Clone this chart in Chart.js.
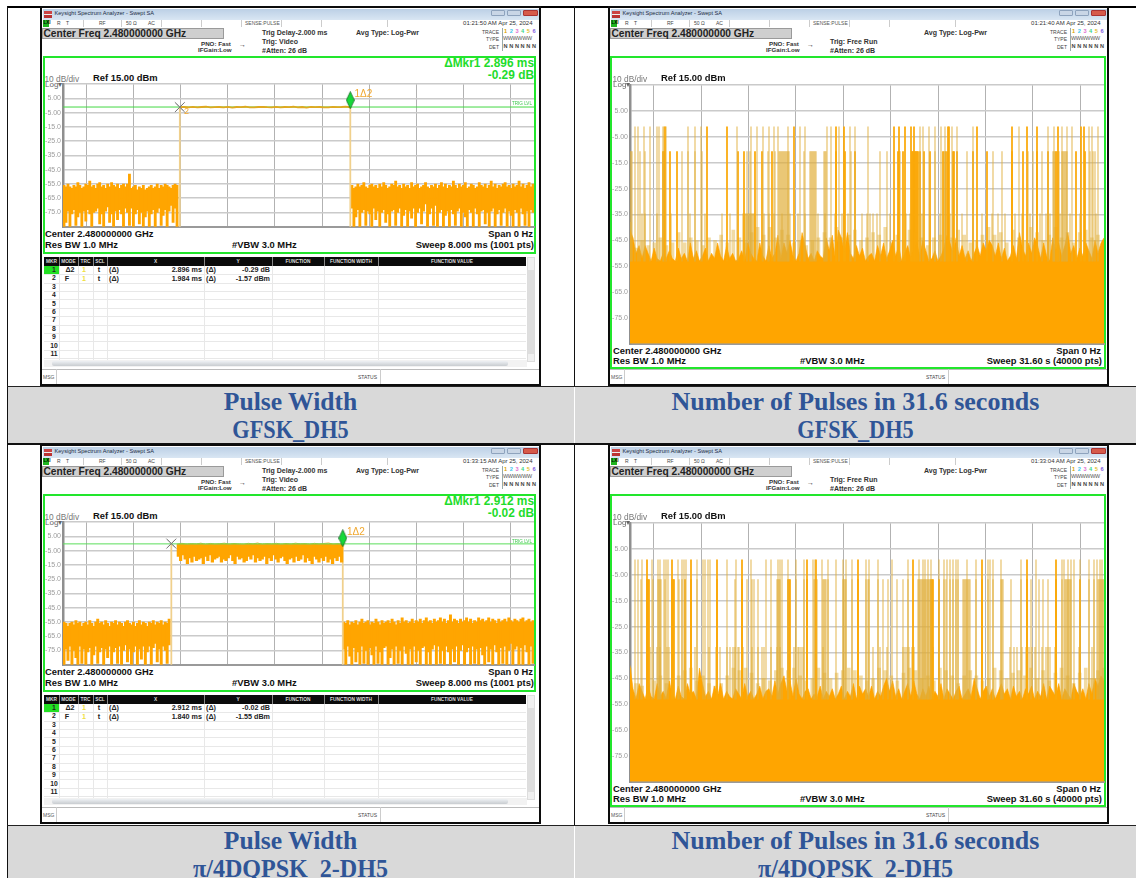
<!DOCTYPE html>
<html><head><meta charset="utf-8">
<script src="https://cdn.jsdelivr.net/npm/chart.js@4/dist/chart.umd.js"></script>
<style>
html,body{margin:0;padding:0;background:#fff;width:1136px;height:878px;overflow:hidden;font-family:"Liberation Sans",Arial,sans-serif}
#page{position:relative;width:1136px;height:878px;overflow:hidden}
.t{position:absolute;white-space:nowrap;line-height:1;color:#111}
.b{position:absolute;box-sizing:border-box}
canvas{position:absolute}
.cap{position:absolute;text-align:center;font-family:"Liberation Serif",serif;font-weight:bold;color:#2F5597;line-height:28px}
</style></head><body><div id="page"></div>
<script>
const dbTickLabels={"5":"5.00","-5":"-5.00","-15":"-15.0","-25":"-25.0","-35":"-35.0","-45":"-45.0","-55":"-55.0","-65":"-65.0","-75":"-75.0"};
const captions=[["Pulse Width","GFSK_DH5"],["Number of Pulses in 31.6 seconds","GFSK_DH5"],["Pulse Width","π/4DQPSK_2-DH5"],["Number of Pulses in 31.6 seconds","π/4DQPSK_2-DH5"]];
const timestamps=["01:21:50 AM Apr 25, 2024","01:21:40 AM Apr 25, 2024","01:33:15 AM Apr 25, 2024","01:33:04 AM Apr 25, 2024"];
const tableHeads=["MKR","MODE","TRC","SCL","X","Y","FUNCTION","FUNCTION WIDTH","FUNCTION VALUE"];
const rowNumbers=["1","2","3","4","5","6","7","8","9","10","11"];

/* Pulse-width sweeps: markers in ms, levels in dBm */
const pw1Start=1.984, pw1Stop=4.88, pw1Mkr="2.896 ms", pw1Db="-0.29 dB", pw1Row2=["1.984 ms","-1.57 dBm"];
const pw3Start=1.84, pw3Stop=4.752, pw3Mkr="2.912 ms", pw3Db="-0.02 dB", pw3Row2=["1.840 ms","-1.55 dBm"];

const pw1TopTrace=[-1.1,-1.0,-1.3,-0.9,-1.2,-1.0,-0.8,-1.3,-1.1,-1.0,-1.2,-0.9,-1.4,-1.0,-1.1,-0.8,-1.2,-1.3,-1.0,-0.9,-1.1,-1.2,-0.9,-1.3,-1.0,-1.1,-0.8,-1.2,-1.0,-1.4,-0.9,-1.1,-1.0,-1.2,-1.3,-0.9,-1.1,-1.0,-0.7,-1.2];
const pw1LeftHi=[-56,-57,-55,-57,-58,-56,-57,-54,-56,-58,-57,-55,-56,-53,-57,-56,-58,-55,-54,-57,-56,-58,-55,-57,-54,-56,-57,-55,-58,-56,-55,-57,-55,-48,-58,-57,-56,-59,-57,-58,-56,-59,-58,-57,-56,-58,-57,-55,-58,-56,-57,-55,-56,-57,-58,-56,-55,-56];
const pw1LeftLo=[-85,-82,-74,-85,-76,-73,-84,-78,-75,-85,-74,-81,-73,-76,-85,-75,-74,-72,-83,-76,-85,-74,-71,-82,-76,-85,-74,-80,-73,-76,-85,-72,-75,-84,-72,-85,-76,-73,-83,-75,-85,-78,-74,-85,-76,-73,-85,-75,-72,-84,-77,-73,-85,-74,-70,-82,-72,-85];
const pw1RightHi=[-56,-58,-57,-55,-57,-56,-54,-57,-58,-56,-55,-57,-56,-58,-55,-57,-54,-56,-58,-57,-55,-56,-53,-57,-56,-58,-55,-57,-56,-58,-54,-57,-56,-55,-58,-57,-56,-54,-57,-58,-56,-57,-55,-58,-56,-54,-57,-55,-58,-56,-57,-53,-56,-58,-55,-57,-56,-54,-58,-57,-55,-56,-58,-57,-54,-56,-57,-55,-58,-56,-53,-57,-55,-58,-56,-57,-55,-54,-57,-56,-58,-55,-57,-56,-53,-57,-55,-58,-56,-54,-57,-55];
const pw1RightLo=[-72,-85,-78,-73,-85,-75,-73,-84,-74,-76,-85,-72,-80,-74,-85,-75,-73,-82,-76,-85,-74,-73,-84,-75,-72,-85,-77,-73,-85,-74,-79,-72,-85,-75,-72,-83,-74,-69,-85,-76,-72,-84,-70,-85,-75,-73,-85,-77,-74,-85,-73,-76,-84,-74,-72,-85,-75,-78,-85,-73,-75,-85,-72,-76,-85,-74,-73,-83,-75,-85,-74,-72,-85,-76,-73,-84,-75,-72,-85,-74,-77,-85,-73,-75,-85,-72,-76,-84,-74,-85,-73,-75];

const pw3TopTrace=[-0.4,0.2,-0.5,0.0,-0.3,0.3,-0.6,0.1,-0.4,-0.1,0.3,-0.5,0.1,-0.3,-0.6,0.2,-0.2,0.4,-0.5,0.0,-0.3,0.2,-0.6,0.1,-0.4,0.3,-0.2,0.0,-0.5,0.2,-0.3,0.1,0.4,-0.4,0.0,-0.6];
const pw3TopLo=[-9,-12,-8,-11,-14,-10,-13,-9,-12,-11,-10,-14,-9,-12,-8,-13,-11,-10,-9,-13,-11,-12,-10,-8,-12,-14,-9,-11,-10,-13,-12,-9,-11,-8,-13,-10,-12,-11,-9,-14,-10,-12,-8,-11,-13,-10,-9,-12,-14,-11,-10,-13,-9,-12,-11,-8,-13,-10,-12,-14,-9,-11,-13,-10,-12,-9,-13,-11,-14,-10,-12,-9,-13];
const pw3LeftHi=[-55,-56,-58,-56,-55,-57,-54,-56,-55,-58,-56,-55,-57,-54,-56,-58,-55,-53,-56,-55,-57,-54,-56,-58,-55,-56,-54,-57,-55,-56,-58,-55,-54,-56,-57,-55,-58,-56,-54,-57,-55,-56,-58,-55,-56,-54,-57,-55,-56,-54,-57,-55,-56,-53];
const pw3LeftLo=[-85,-74,-82,-72,-85,-75,-80,-85,-72,-84,-74,-85,-76,-73,-85,-78,-72,-84,-76,-73,-85,-74,-80,-72,-85,-76,-73,-84,-72,-85,-75,-71,-83,-74,-85,-76,-72,-85,-74,-81,-72,-85,-76,-72,-85,-73,-70,-83,-74,-85,-72,-75,-84,-71];
const pw3RightHi=[-55,-56,-54,-57,-55,-56,-54,-57,-55,-53,-56,-55,-54,-57,-55,-56,-53,-55,-57,-54,-56,-55,-54,-56,-53,-55,-57,-54,-56,-52,-55,-54,-56,-55,-53,-56,-54,-55,-53,-56,-54,-52,-55,-54,-56,-53,-55,-54,-52,-55,-53,-56,-54,-50,-55,-53,-54,-56,-53,-55,-54,-52,-55,-53,-56,-54,-55,-52,-54,-53,-55,-54,-52,-55,-53,-54,-56,-53,-55,-54,-53,-55,-52,-54,-55,-53,-54,-55,-53,-52,-55,-54,-53,-55,-54];
const pw3RightLo=[-74,-85,-72,-79,-85,-73,-83,-76,-85,-72,-84,-75,-85,-73,-78,-85,-72,-84,-76,-85,-73,-72,-85,-80,-74,-85,-72,-84,-75,-85,-72,-77,-85,-74,-85,-72,-83,-75,-85,-73,-72,-85,-76,-85,-74,-71,-85,-72,-84,-75,-85,-72,-76,-85,-74,-83,-72,-85,-75,-71,-85,-76,-73,-85,-72,-84,-74,-85,-73,-78,-85,-72,-83,-74,-85,-71,-76,-85,-73,-84,-72,-85,-75,-70,-85,-74,-72,-85,-73,-85,-71,-76,-85,-72,-84];

/* Pulse-count sweeps: trace columns across the 10 divisions (0..474) */
const p2TopStrong=[35,77,97,164,206,214,264,269,275,281,284,318,319,347,382,397,407,428,451,454];
const p2TopPale=[5,8,14,20,27,29,33,34,36,58,65,71,107,121,127,133,139,144,148,158,170,175,197,201,209,220,225,238,290,293,299,305,311,315,322,327,343,389,418,424,432,437,442,459,462,468];
const p2MidStrong=[33,34,40,47,108,114,125,132,142,206,215,225,268,273,282,283,284,285,286,287,288,290,294,300,313,316,318,323,324,327,343,357,382,393,407,418,426,446,455];
const p2MidPale=[0,1,2,10,15,52,58,65,72,117,120,138,145,149,150,151,152,153,154,155,156,157,158,159,174,180,181,182,183,184,185,186,194,195,196,221,250,257,269,270,305,314,315,337,363,372,398,403,412,423,424,425,427,428,429,432,433,434,435,436,437,460,463,465];
const p2LowPale=[12,15,27,41,60,75,92,100,113,114,115,116,117,118,119,120,121,122,123,124,125,134,139,144,152,160,168,175,188,195,205,212,218,232,237,240,243,247,260,268,276,280,292,300,310,320,332,352,362,368,375,385,392,400,410,416,420,430,440,450,466];
const p2Floor=[-41,-44,-50,-47,-52,-47,-50,-53,-48,-52,-53,-50,-52,-49,-52,-53,-48,-52,-50,-53,-46,-52,-49,-53,-51,-48,-53,-50,-52,-46,-51,-53,-47,-52,-50,-53,-52,-49,-53,-46,-50,-52,-53,-46,-51,-53,-47,-52,-50,-43,-52,-46,-50,-45,-51,-53,-50,-42,-47,-52,-50,-53,-49,-51,-52,-44,-49,-43,-52,-41,-44,-50,-42,-50,-52,-47,-51,-48,-53,-51,-50,-53,-47,-51,-46,-52,-49,-45,-51,-47,-53,-50,-47,-52,-48,-46,-51,-45,-49,-53,-52,-49,-53,-51,-48,-43,-46,-50,-44,-51,-47,-52,-49,-53,-50,-47,-51,-46,-49,-45,-47,-51,-46,-52,-48,-53,-51,-47,-52,-42,-48,-51,-46,-50,-44,-47,-52,-46,-51,-53,-44,-49,-46,-51,-47,-42,-50,-47,-52,-48,-51,-46,-49,-52,-45,-50,-46,-44];
const p2Haze=[-38,-48,-45,-47,-46,-44,-47,-46,-42,-46,-44,-45,-47,-44,-45,-43,-46,-41,-44,-46,-42,-40,-43,-40,-44,-41,-43,-46,-45,-47,-45,-44,-42,-44,-40,-44,-43,-41,-45,-44,-42,-43,-40,-46,-43,-45,-41,-42,-44,-47,-44,-43,-46,-44,-41,-43,-46,-45,-43,-40,-43,-42,-46,-41,-44,-45,-40,-42,-45,-43,-40,-44,-42,-46,-42,-41,-44,-43,-45];

const p4TopStrong=[17,42,61,87,112,177,186,228,283,352,397,426];
const p4TopPale=[5,8,12,22,28,30,34,36,38,48,52,54,56,67,73,75,78,80,97,106,121,136,141,148,150,152,158,166,174,183,185,192,198,206,213,216,222,236,239,248,262,278,289,293,295,298,301,309,314,317,320,323,326,328,337,346,358,360,363,371,391,406,432,434,438,441,444,450,459,464,467,470,472];
const p4MidStrong=[17,18,19,42,43,44,55,61,87,112,158,159,160,177,301,302,303,228,309,352,397,426,450];
const p4MidPale=[11,23,28,29,30,31,35,49,52,67,105,117,122,124,128,147,148,149,150,166,174,184,185,186,187,193,194,195,196,198,213,214,215,216,222,236,238,239,248,253,258,267,273,278,283,288,289,290,291,292,293,294,295,296,297,298,299,300,314,316,320,323,326,328,333,334,335,336,337,338,339,340,346,358,363,371,372,373,381,391,401,409,413,418,432,435,436,437,438,439,440,441,459,464,468,469,470,471,472,473,474];
const p4LowPale=[20,27,30,37,39,65,79,86,90,97,100,103,105,108,109,113,122,128,132,134,141,147,150,164,168,169,171,173,193,243,250,257,273,275,277,279,282,284,303,380,384,387,392,396,399,402,405,412,416,418,420,425,449,462];
const p4Floor=[-40,-49,-53,-47,-50,-53,-48,-52,-53,-47,-52,-50,-53,-46,-51,-53,-48,-52,-53,-47,-51,-50,-53,-41,-47,-52,-50,-53,-48,-52,-47,-53,-50,-52,-53,-49,-51,-53,-47,-52,-50,-53,-51,-48,-53,-50,-49,-52,-46,-51,-47,-44,-50,-46,-52,-45,-51,-53,-50,-49,-53,-51,-52,-48,-53,-50,-52,-49,-53,-51,-48,-53,-50,-52,-47,-53,-48,-51,-49,-52,-48,-53,-50,-52,-48,-45,-50,-46,-52,-49,-53,-50,-47,-52,-46,-51,-53,-49,-52,-48,-53,-50,-52,-47,-53,-49,-51,-53,-50,-48,-53,-51,-49,-52,-45,-49,-53,-50,-48,-52,-49,-53,-50,-47,-51,-49,-53,-48,-52,-50,-53,-49,-51,-48,-53,-50,-52,-47,-53,-48,-50,-52,-47,-53,-49,-51,-53,-47,-50,-52,-49,-53,-47,-51,-45,-48,-44,-46];
const p4Haze=[-41,-47,-48,-47,-46,-44,-47,-46,-44,-42,-41,-46,-44,-47,-48,-47,-44,-41,-42,-41,-43,-47,-45,-46,-42,-41,-42,-41,-44,-46,-45,-41,-43,-45,-43,-42,-41,-42,-44,-46,-45,-41,-42,-44,-46,-43,-41,-42,-45,-44,-46,-41,-42,-44,-47,-44,-42,-44,-46,-45,-41,-42,-45,-43,-42,-44,-41,-45,-42,-46,-43,-41,-44,-47,-43,-41,-45,-42,-41];

const GRID_H='#cacaca', GRID_V='#b2b2b2', ORANGE='#FFA500', PALE='rgba(226,176,60,.5)', STRONG='rgba(250,168,8,.97)', GREEN='#22e62c';
const page=document.getElementById('page');
function box(x,y,w,h,css,html){const d=document.createElement('div');d.className='b';d.style.cssText=`left:${x}px;top:${y}px;width:${w}px;height:${h}px;${css||''}`;if(html)d.innerHTML=html;page.appendChild(d);return d;}
function txt(x,y,s,css,right){const d=document.createElement('div');d.className='t';d.textContent=s;d.style.cssText=`${right?'right:'+(1136-x):'left:'+x}px;top:${y}px;transform:translateY(-50%);${css||''}`;page.appendChild(d);return d;}
function centre(x,y,s,css){const d=txt(x,y,s,css);d.style.transform='translate(-50%,-50%)';return d;}

/* table skeleton */
box(7,6,1129,1.5,'background:#000');
box(7,6,1,872,'background:#111');
box(574,6,1,381,'background:#111');
box(574,444,1,381,'background:#111');
[[8,387,566,56],[575,387,561,56],[8,826,566,52],[575,826,561,52]].forEach(r=>box(r[0],r[1],r[2],r[3],'background:#D9D9D9'));
box(7,386,1129,1,'background:#222');box(7,443,1129,1.5,'background:#111');box(7,825,1129,1,'background:#222');
const capFirstSize=[25.6,26,25.6,26], capSecondScale=[.87,.87,.94,.94];
[[7,387],[575,387],[7,826],[575,826]].forEach((p,i)=>{const c=document.createElement('div');c.className='cap';c.style.cssText=`left:${p[0]}px;top:${p[1]+1}px;width:${p[0]<100?567:561}px`;
  const a=document.createElement('div');a.textContent=captions[i][0];a.style.fontSize=capFirstSize[i]+'px';
  const b=document.createElement('div');b.textContent=captions[i][1];b.style.fontSize='25.6px';b.style.transform=`scaleX(${capSecondScale[i]})`;
  c.appendChild(a);c.appendChild(b);page.appendChild(c);});

function diamondCanvas(){const c=document.createElement('canvas');c.width=9;c.height=18;const g=c.getContext('2d');g.fillStyle='#16d93a';g.strokeStyle='#0b5a1a';g.lineWidth=.7;g.beginPath();g.moveTo(4.5,.5);g.lineTo(8.5,9);g.lineTo(4.5,17.5);g.lineTo(.5,9);g.closePath();g.fill();g.stroke();return c;}

function mkChart(L,T,W,H,datasets,xMax,step){
  const c=document.createElement('canvas');const PAD=6,AX=26;
  c.width=Math.round(W+AX+PAD);c.height=Math.round(H+PAD*2);c.style.left=(L-AX)+'px';c.style.top=(T-PAD)+'px';c.style.width=c.width+'px';c.style.height=c.height+'px';page.appendChild(c);
  new Chart(c,{type:'bar',data:{datasets},options:{responsive:false,animation:false,devicePixelRatio:1,
    layout:{autoPadding:false,padding:{left:0,right:PAD,top:PAD,bottom:PAD}},
    plugins:{legend:{display:false},tooltip:{enabled:false}},
    scales:{
      x:{type:'linear',min:0,max:xMax,offset:false,ticks:{display:false,stepSize:step,includeBounds:true},afterFit:a=>{a.height=0;},
         grid:{color:GRID_V,lineWidth:1,drawTicks:false},border:{color:'#9a9a9a',width:2}},
      y:{min:-85,max:15,ticks:{stepSize:10,padding:2,color:'#9c9c9c',font:{family:'Liberation Sans',size:7},callback:v=>dbTickLabels[String(v)]||''},
         afterFit:a=>{a.width=AX;},grid:{color:GRID_H,lineWidth:1.6,drawTicks:false},border:{color:'#8f8f8f',width:2.5}}
    }}});
}
function barsFrom(xs,lo,hi){return xs.map((x,i)=>({x,y:[lo[i],hi[i]]}));}
function span(a,b,n){return Array.from({length:n},(_,i)=>a+(b-a)*(i+.5)/n);}
function noiseDs(a,b,hi,lo,th){const n=Math.min(hi.length,lo.length);return {type:'bar',grouped:false,barThickness:th,backgroundColor:ORANGE,data:barsFrom(span(a,b,n),lo,hi)};}
function traceDs(a,b,arr,color,w){return {type:'line',pointRadius:0,borderColor:color,borderWidth:w,data:arr.map((y,i)=>({x:a+(b-a)*i/(arr.length-1),y}))};}
function edgeDs(xs,top,color,w){return {type:'bar',grouped:false,barThickness:w,backgroundColor:color,data:xs.map(x=>({x,y:[-85,top]}))};}
function pulseDs(cols,top,color,bottom){return {type:'bar',grouped:false,barThickness:1.15,backgroundColor:color,data:cols.map(x=>({x,y:[bottom,top]}))};}
function envDs(arr,color){return {type:'line',pointRadius:0,borderWidth:.6,borderColor:color,backgroundColor:color,fill:'start',data:arr.map((y,i)=>({x:474*i/(arr.length-1),y}))};}
function hazeDs(arr,color){return {type:'bar',grouped:false,barThickness:3,backgroundColor:color,data:arr.map((y,i)=>({x:474*i/(arr.length-1),y:[-53,y]}))};}
function markerDs(x,y,style,color,r){return {type:'line',showLine:false,pointStyle:style,pointRadius:r,pointBorderColor:color,pointBackgroundColor:color,pointBorderWidth:1,data:[{x,y}]};}

function frameText(ox,oy,i,isPw,cfg){
  const X=n=>n+ox,Y=n=>n+oy;
  box(X(40),Y(6),501,380,'background:#fff;border:2.5px solid #0c0c0c');
  box(X(42.5),Y(8.5),496,11,'background:linear-gradient(#bcd0e6,#d9e6f3)');
  box(X(43.5),Y(10.5),8,7,'background:linear-gradient(#c44 45%,#eee 45%,#eee 60%,#b33 60%)');
  txt(X(54.5),Y(14),'Keysight Spectrum Analyzer - Swept SA','font-size:5.6px;color:#1b2b44');
  box(X(491),Y(10),14,6,'background:#c9d6e6;border:1px solid #8ea3bd;border-radius:1px');
  box(X(507),Y(10),14,6,'background:#c9d6e6;border:1px solid #8ea3bd;border-radius:1px');
  box(X(522.5),Y(10),15,6,'background:#d65a4a;border:1px solid #a33;border-radius:1px');
  box(X(43),Y(19.5),6,7,'background:#1fb51f');
  txt(X(43.5),Y(23),'LXI','font-size:4.5px;color:#000;font-weight:bold');
  [[57,'R'],[66,'T'],[99,'RF'],[126,'50 Ω'],[148,'AC']].forEach(a=>txt(X(a[0]),Y(23),a[1],'font-size:5px;color:#444'));
  txt(X(245),Y(23),'SENSE:PULSE','font-size:5px;color:#555');
  [[83,1],[121,1],[161,1],[201,1],[241,1],[281,1],[321,1],[387,1]].forEach(a=>box(X(a[0]),Y(19.5),1,7.5,'background:#ccc'));
  txt(X(532.5),Y(23),timestamps[i],'font-size:6px;color:#333',true);
  box(X(42),Y(27.5),182,11.5,'background:#cfcfcf;border:1px solid #9a9a9a');
  txt(X(43.5),Y(33.5),'Center Freq 2.480000000 GHz','font-size:10.2px;font-weight:bold;color:#222');
  txt(X(201),Y(43.5),'PNO: Fast','font-size:6.2px;font-weight:bold;color:#333');
  txt(X(198),Y(50),'IFGain:Low','font-size:6.2px;font-weight:bold;color:#333');
  txt(X(239),Y(43.5),'→','font-size:7px;color:#333');
  if(isPw) txt(X(262),Y(32),'Trig Delay-2.000 ms','font-size:7px;font-weight:bold;color:#333');
  txt(X(262),Y(41),isPw?'Trig: Video':'Trig: Free Run','font-size:7px;font-weight:bold;color:#333');
  txt(X(262),Y(50),'#Atten: 26 dB','font-size:7px;font-weight:bold;color:#333');
  txt(X(356),Y(32),'Avg Type: Log-Pwr','font-size:7px;font-weight:bold;color:#333');
  txt(X(499),Y(31.5),'TRACE','font-size:5px;color:#444',true);
  txt(X(499),Y(39),'TYPE','font-size:5px;color:#444',true);
  txt(X(499),Y(47),'DET','font-size:5px;color:#444',true);
  ['#d9a400','#3cc8ee','#e070d0','#35d68a','#e0c030','#8060e0'].forEach((col,k)=>{txt(X(504+k*5.7),Y(31.5),String(k+1),`font-size:5.6px;font-weight:bold;color:${col}`);txt(X(503.5+k*5.7),Y(47),'N','font-size:5.6px;font-weight:bold;color:#444');});
  txt(X(503),Y(39),'WWWWWW','font-size:5.4px;color:#555;letter-spacing:-.3px');
  box(X(501.5),Y(28),1,23,'background:#9aa');
  /* green frame */
  box(X(isPw?43:42),Y(56),isPw?493:496,isPw?198:313,`border:2px solid ${GREEN}`);
  if(isPw){
    txt(X(534),Y(cfg.mkrY),'ΔMkr1 '+cfg.mkr,`font-size:11.9px;font-weight:bold;color:#1fdc2c`,true);
    txt(X(534),Y(cfg.mkrY+11.5),cfg.db,`font-size:11.9px;font-weight:bold;color:#1fdc2c`,true);
  }
  txt(X(44.5),Y(78.5),'10 dB/div','font-size:8.3px;color:#777');
  txt(X(93),Y(78),'Ref 15.00 dBm','font-size:9.4px;font-weight:bold;color:#111');
  txt(X(45),Y(85),'Log▾','font-size:8px;color:#666');
  const rowA=isPw?233.5:351,rowB=isPw?245:361;
  txt(X(45),Y(rowA),'Center 2.480000000 GHz','font-size:9.4px;font-weight:bold;color:#111');
  txt(X(45),Y(rowB),'Res BW 1.0 MHz','font-size:9.4px;font-weight:bold;color:#111');
  txt(X(232),Y(rowB),'#VBW 3.0 MHz','font-size:9.4px;font-weight:bold;color:#111');
  txt(X(533),Y(rowA),'Span 0 Hz','font-size:9.4px;font-weight:bold;color:#111',true);
  txt(X(534),Y(rowB),'Sweep  '+(isPw?'8.000 ms (1001 pts)':'31.60 s (40000 pts)'),'font-size:9.4px;font-weight:bold;color:#111',true);
  /* marker table */
  if(isPw){
    const cols=[44,59,78,93,107,204,272,324,378,526];
    box(X(44),Y(257),482,9,'background:#0b0b0b');
    tableHeads.forEach((h,k)=>{centre(X((cols[k]+cols[k+1])/2),Y(261.5),h,'font-size:4.8px;color:#ddd;font-weight:bold');if(k)box(X(cols[k]),Y(257),1,9,'background:#888');});
    box(X(44),Y(266),15,8,'background:#22e022');
    rowNumbers.forEach((n,k)=>{const y=270+k*8.4;centre(X(54),Y(y),n,'font-size:6.8px;font-weight:bold;color:#222');box(X(44),Y(y+4.2),482,1,'background:#e8e8e8');});
    cols.slice(1,-1).forEach(v=>box(X(v),Y(266),1,94,'background:#e8e8e8'));
    centre(X(70),Y(270),'Δ2','font-size:7.2px;font-weight:bold;color:#222');
    centre(X(67),Y(279),'F','font-size:7.2px;font-weight:bold;color:#222');
    [270,279].forEach(y=>{centre(X(84),Y(y),'1','font-size:7.2px;font-weight:bold;color:#f0e040');centre(X(99),Y(y),'t','font-size:7.2px;font-weight:bold;color:#222');txt(X(109),Y(y),'(Δ)','font-size:7.2px;font-weight:bold;color:#222');txt(X(206),Y(y),'(Δ)','font-size:7.2px;font-weight:bold;color:#222');});
    txt(X(202),Y(270),cfg.mkr,'font-size:7.2px;font-weight:bold;color:#222',true);
    txt(X(270),Y(270),cfg.db,'font-size:7.2px;font-weight:bold;color:#222',true);
    txt(X(202),Y(279),cfg.row2[0],'font-size:7.2px;font-weight:bold;color:#222',true);
    txt(X(270),Y(279),cfg.row2[1],'font-size:7.2px;font-weight:bold;color:#222',true);
    box(X(527),Y(257),8,105,'background:#f0f0f0;border:1px solid #ddd');
    box(X(528),Y(270),6,84,'background:#dedede');
    box(X(44),Y(360),483,7,'background:#f2f2f2');
    box(X(52),Y(361),456,5,'background:linear-gradient(#eef1f4,#c8ccd0);border-radius:2px');
  }
  box(X(42),Y(369),497,1,'background:#bbb');
  txt(X(43),Y(376.5),'MSG','font-size:5px;color:#555');
  box(X(56),Y(369),1,15,'background:#ccc');
  txt(X(358),Y(376.5),'STATUS','font-size:5px;color:#444');
  box(X(380),Y(369),1,15,'background:#ccc');
}

/* Panel 1 */
frameText(0,0,0,true,{mkrY:64,mkr:pw1Mkr,db:pw1Db,row2:pw1Row2});
mkChart(62.7,84,471,142.7,[
  markerDs(pw1Stop,3.8,diamondCanvas(),'#16d93a',8),
  markerDs(pw1Start,-1.1,'crossRot','#777',7),
  markerDs(pw1Start,-1.1,'crossRot','#aaa',5),
  traceDs(pw1Start,pw1Stop,pw1TopTrace,'#e0a820',1.8),
  {type:'line',pointRadius:0,borderColor:'#43d843',borderWidth:1,data:[{x:0,y:-1},{x:8,y:-1}]},
  edgeDs([pw1Start,pw1Stop],-1.1,'#f0d08c',1.1),
  noiseDs(0,pw1Start-.03,pw1LeftHi,pw1LeftLo,2.2),
  noiseDs(pw1Stop+.01,8,pw1RightHi,pw1RightLo,2.2)
],8,.8);
txt(354.5,94,'1Δ2','font-size:10px;color:#f0a830');
txt(184,111,'2','font-size:9px;color:#f0a830');
txt(532,104,'TRIG LVL','font-size:4.6px;color:#40c850',true);

/* Panel 2 */
frameText(568,0,1,false,{});
mkChart(629.6,85,474,258.5,[
  pulseDs(p2TopStrong,-1.1,STRONG,-53),
  pulseDs(p2TopPale,-1.1,PALE,-53),
  pulseDs(p2MidStrong,-10.7,STRONG,-53),
  pulseDs(p2MidPale,-10.7,PALE,-53),
  envDs(p2Floor,ORANGE),
  pulseDs(p2LowPale,-34.7,PALE,-53),
  hazeDs(p2Haze,'rgba(230,190,90,.55)')
],474,47.4);

/* Panel 3 */
frameText(0,438,2,true,{mkrY:64,mkr:pw3Mkr,db:pw3Db,row2:pw3Row2});
mkChart(62.7,521.7,471,143.3,[
  markerDs(pw3Stop,3.8,diamondCanvas(),'#16d93a',8),
  markerDs(pw3Start,0,'crossRot','#777',7),
  markerDs(pw3Start,0,'crossRot','#aaa',5),
  {type:'line',pointRadius:0,borderColor:'#5ade5a',borderWidth:1,data:[{x:0,y:-.2},{x:8,y:-.2}]},
  traceDs(pw3Start+.1,pw3Stop,pw3TopTrace,'#e6b030',1),
  noiseDs(pw3Start+.1,pw3Stop,pw3TopLo.map(()=>-.4),pw3TopLo,2.6),
  edgeDs([pw3Start,pw3Stop],-.2,'#f0d08c',1.1),
  noiseDs(0,pw3Start-.02,pw3LeftHi,pw3LeftLo,2.3),
  noiseDs(pw3Stop,8,pw3RightHi,pw3RightLo,2.3)
],8,.8);
txt(347,532,'1Δ2','font-size:10px;color:#f0a830');
txt(532,542,'TRIG LVL','font-size:4.6px;color:#40c850',true);

/* Panel 4 */
frameText(568,438,3,false,{});
mkChart(629.6,522.7,474,258.5,[
  pulseDs(p4TopStrong,.84,STRONG,-53),
  pulseDs(p4TopPale,.84,PALE,-53),
  pulseDs(p4MidStrong,-6.8,STRONG,-53),
  pulseDs(p4MidPale,-6.8,PALE,-53),
  envDs(p4Floor,ORANGE),
  pulseDs(p4LowPale,-33,PALE,-53),
  hazeDs(p4Haze,'rgba(230,190,90,.55)')
],474,47.4);
</script></body></html>
